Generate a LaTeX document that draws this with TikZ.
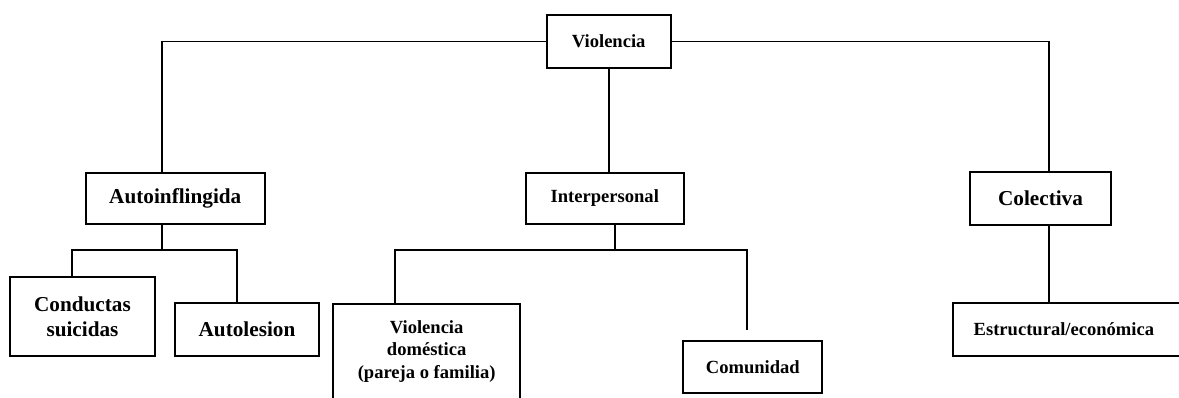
\documentclass[tikz,border=0pt]{standalone}
\usepackage{fontspec}
\setmainfont{Liberation Serif}

\begin{document}
\begin{tikzpicture}[line width=1.4pt,
        caja/.style={draw,inner sep=0pt,align=center},
        chico/.style={font=\fontsize{13.2}{16}\selectfont\bfseries},
        grande/.style={font=\fontsize{15.1}{17.8}\selectfont\bfseries}]
                \useasboundingbox (0,0) rectangle (29.475,9.925);
                \clip (0,0) rectangle (29.475,9.925);
                \node[caja,chico,minimum width=3.1cm,minimum height=1.325cm] (viol) at (15.2175,8.8875) {Violencia};
                \node[caja,grande,minimum width=4.48cm,minimum height=1.29cm] (auto) at (4.3825,4.9625) {Autoinflingida};
                \node[caja,chico,minimum width=3.96cm,minimum height=1.29cm] (inter) at (15.12,4.9625) {Interpersonal};
                \node[caja,grande,minimum width=3.525cm,minimum height=1.32cm] (colec) at (26.0125,4.959) {Colectiva};
                \node[caja,grande,minimum width=3.625cm,minimum height=1.975cm] (cond) at (2.0625,2.0125) {Conductas\\suicidas};
                \node[caja,grande,minimum width=3.615cm,minimum height=1.333cm] (autol) at (6.175,1.691) {Autolesion};
                \node[caja,chico,minimum width=4.668cm,inner ysep=0.4cm,anchor=north] (domes) at (10.6663,2.3425) {Violencia\\doméstica\\(pareja o familia)\\\rule{0pt}{1cm}};
                \node[caja,chico,minimum width=3.475cm,minimum height=1.308cm] (comu) at (18.82,0.754) {Comunidad};
                \node[caja,chico,text width=4.8cm,inner xsep=0.51cm,align=left,minimum height=1.3175cm,anchor=west] (estr) at (23.8075,1.684) {Estructural/económica};
                \coordinate (ja) at (4.0425,8.8875);
                \coordinate (jc) at (26.225,8.8875);
                \coordinate (ra) at (1.7925,3.675);
                \coordinate (rb) at (5.9325,3.675);
                \coordinate (ia) at (15.3825,3.675);
                \coordinate (ib) at (9.875,3.675);
                \coordinate (ic) at (18.6675,3.675);
                \coordinate (icend) at (18.6675,1.675);
                \draw (viol.west) -- (ja) -- (ja |- auto.north);
                \draw (viol.east) -- (jc) -- (jc |- colec.north);
                \draw (viol.south) -- (viol.south |- inter.north);
                \draw (ja |- auto.south) -- (ja |- ra);
                \draw (ra |- cond.north) -- (ra) -- (rb) -- (rb |- autol.north);
                \draw (ia |- inter.south) -- (ia);
                \draw (ib |- domes.north) -- (ib) -- (ic) -- (icend);
                \draw (jc |- colec.south) -- (jc |- estr.north);
            \end{tikzpicture}
\end{document}
